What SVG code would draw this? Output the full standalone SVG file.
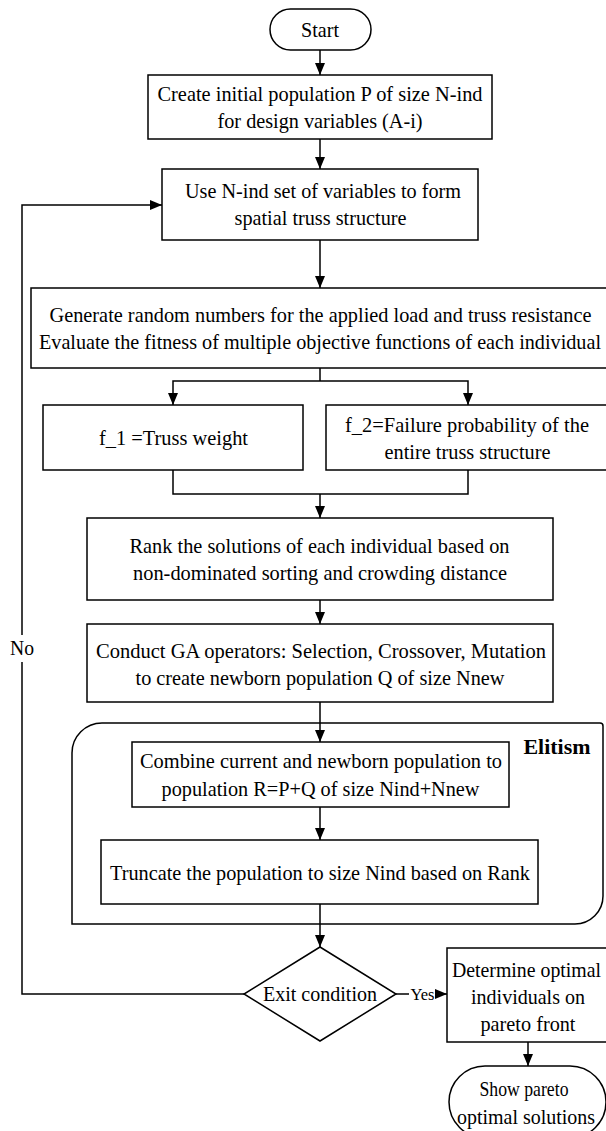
<svg xmlns="http://www.w3.org/2000/svg" width="606" height="1131" viewBox="0 0 606 1131">
<style>
.box{fill:#fff;stroke:#000;stroke-width:1.5}
.cont{fill:none;stroke:#000;stroke-width:1.5}
.ln{fill:none;stroke:#000;stroke-width:1.5}
.arr{fill:none;stroke:#000;stroke-width:1.5;marker-end:url(#ah)}
text{font-family:"Liberation Serif","Times New Roman",serif;font-size:22px;fill:#000;text-anchor:middle}
.b{font-weight:bold}
.sm{font-size:16px}
</style>
<defs>
<marker id="ah" markerUnits="userSpaceOnUse" markerWidth="12" markerHeight="10" refX="12" refY="5" orient="auto">
<path d="M0,0 L12,5 L0,10 Z" fill="#000"/>
</marker>
</defs>
<rect width="606" height="1131" fill="#fff"/>
<g id="elitism">
<path class="cont" d="M72 753 A30 30 0 0 1 102 723 L600 723 A3 3 0 0 1 603 726 L603 896 A28 28 0 0 1 575 924 L72 924 Z"/>
<text class="b" x="557" y="754" textLength="67" lengthAdjust="spacingAndGlyphs">Elitism</text>
</g>
<g id="connectors">
<path class="arr" d="M320 50 V75"/>
<path class="arr" d="M320 139 V169"/>
<path class="arr" d="M320 240 V288"/>
<path class="ln" d="M320 368 V381"/>
<path class="arr" d="M320 381 H173 V405"/>
<path class="arr" d="M320 381 H468 V405"/>
<path class="ln" d="M173 470 V494 H468 V470"/>
<path class="arr" d="M320 494 V518"/>
<path class="arr" d="M320 600 V624"/>
<path class="arr" d="M320 702 V742"/>
<path class="arr" d="M320 807 V840"/>
<path class="arr" d="M320 904 V947"/>
<path class="arr" d="M244 994 H22 V205 H162"/>
<path class="arr" d="M396 994 H447"/>
<path class="arr" d="M528 1042 V1066"/>
<rect x="8" y="635" width="28" height="27" fill="#fff"/>
<text x="22" y="655" font-size="20" textLength="24" lengthAdjust="spacingAndGlyphs">No</text>
<rect x="409" y="986" width="26" height="17" fill="#fff"/>
<text class="sm" x="422.5" y="1000" textLength="24" lengthAdjust="spacingAndGlyphs">Yes</text>
</g>
<g id="start">
<rect class="box" x="270" y="9" width="101" height="41" rx="20.5"/>
<text x="320" y="37" textLength="38" lengthAdjust="spacingAndGlyphs">Start</text>
</g>
<g id="create">
<rect class="box" x="148" y="75" width="344" height="64"/>
<text x="320" y="101" textLength="325" lengthAdjust="spacingAndGlyphs">Create initial population P of size N-ind</text>
<text x="320" y="128" textLength="205" lengthAdjust="spacingAndGlyphs">for design variables (A-i)</text>
</g>
<g id="use">
<rect class="box" x="162" y="169" width="316" height="71"/>
<text x="323" y="198" textLength="276" lengthAdjust="spacingAndGlyphs">Use N-ind set of variables to form</text>
<text x="320.5" y="225" textLength="172" lengthAdjust="spacingAndGlyphs">spatial truss structure</text>
</g>
<g id="generate">
<rect class="box" x="31" y="288" width="578" height="80"/>
<text x="320.5" y="322" textLength="542" lengthAdjust="spacingAndGlyphs">Generate random numbers for the applied load and truss resistance</text>
<text x="320" y="349" textLength="562" lengthAdjust="spacingAndGlyphs">Evaluate the fitness of multiple objective functions of each individual</text>
</g>
<g id="f1">
<rect class="box" x="43" y="405" width="260" height="65"/>
<text x="173.5" y="445" textLength="149" lengthAdjust="spacingAndGlyphs">f_1 =Truss weight</text>
</g>
<g id="f2">
<rect class="box" x="326" y="405" width="282" height="65"/>
<text x="467" y="432" textLength="244" lengthAdjust="spacingAndGlyphs">f_2=Failure probability of the</text>
<text x="467.5" y="459" textLength="166" lengthAdjust="spacingAndGlyphs">entire truss structure</text>
</g>
<g id="rank">
<rect class="box" x="87" y="518" width="466" height="82"/>
<text x="319.5" y="553" textLength="380" lengthAdjust="spacingAndGlyphs">Rank the solutions of each individual based on</text>
<text x="320" y="580" textLength="374" lengthAdjust="spacingAndGlyphs">non-dominated sorting and crowding distance</text>
</g>
<g id="ga">
<rect class="box" x="87" y="624" width="466" height="78"/>
<text x="321" y="658" textLength="450" lengthAdjust="spacingAndGlyphs">Conduct GA operators: Selection, Crossover, Mutation</text>
<text x="320" y="685" textLength="369" lengthAdjust="spacingAndGlyphs">to create newborn population Q of size Nnew</text>
</g>
<g id="combine">
<rect class="box" x="132" y="742" width="377" height="65"/>
<text x="321" y="768" textLength="362" lengthAdjust="spacingAndGlyphs">Combine current and newborn population to</text>
<text x="320.5" y="796" textLength="318" lengthAdjust="spacingAndGlyphs">population R=P+Q of size Nind+Nnew</text>
</g>
<g id="truncate">
<rect class="box" x="101" y="840" width="437" height="64"/>
<text x="320" y="880" textLength="420" lengthAdjust="spacingAndGlyphs">Truncate the population to size Nind based on Rank</text>
</g>
<g id="exit">
<path class="box" d="M320 947 L396 994 L320 1041 L244 994 Z"/>
<text x="320" y="1001" textLength="114" lengthAdjust="spacingAndGlyphs">Exit condition</text>
</g>
<g id="determine">
<rect class="box" x="447" y="948" width="162" height="94"/>
<text x="526.5" y="977" textLength="149" lengthAdjust="spacingAndGlyphs">Determine optimal</text>
<text x="528" y="1004" textLength="114" lengthAdjust="spacingAndGlyphs">individuals on</text>
<text x="528" y="1031" textLength="95" lengthAdjust="spacingAndGlyphs">pareto front</text>
</g>
<g id="show">
<rect class="box" x="449" y="1066" width="157" height="72" rx="36"/>
<text x="524" y="1096" textLength="89" lengthAdjust="spacingAndGlyphs">Show pareto</text>
<text x="526" y="1124" textLength="138" lengthAdjust="spacingAndGlyphs">optimal solutions</text>
</g>
</svg>
